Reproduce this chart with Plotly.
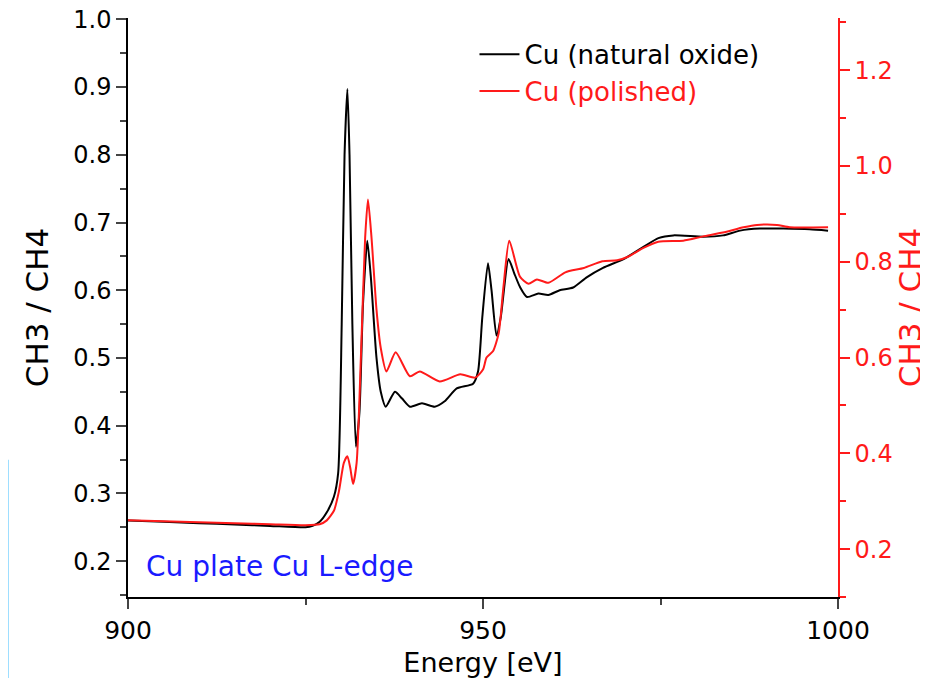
import plotly.graph_objects as go

# Cu (natural oxide) - left axis
energy_black = [900, 905, 910, 915, 920, 925, 926, 927, 928, 929, 929.6, 930.1, 930.5, 930.9,
                931.2, 931.6, 932.1, 932.6, 933.1, 933.7, 934.2, 935.0, 935.6, 936.3, 937.6,
                938.6, 939.7, 941.4, 943.2, 944.6, 946.3, 948.6, 949.3, 949.9, 950.7, 951.2,
                951.9, 952.5, 953.6, 954.4, 955.2, 956.2, 957.8, 959.2, 960.8, 962.7, 964.6,
                966.9, 969.8, 972.6, 974.7, 976.8, 981.0, 983.8, 986.2, 989.0, 992.3, 996.0, 998.6]
ratio_black = [0.260, 0.258, 0.256, 0.254, 0.252, 0.250, 0.252, 0.258, 0.272, 0.295, 0.33, 0.55,
               0.80, 0.897, 0.80, 0.55, 0.369, 0.42, 0.58, 0.673, 0.62, 0.50, 0.45, 0.428, 0.450,
               0.440, 0.428, 0.433, 0.428, 0.436, 0.455, 0.462, 0.48, 0.56, 0.640, 0.60,
               0.533, 0.56, 0.646, 0.625, 0.605, 0.590, 0.595, 0.593, 0.600, 0.604, 0.619,
               0.633, 0.646, 0.664, 0.677, 0.681, 0.679, 0.681, 0.688, 0.691, 0.691, 0.690, 0.688]

# Cu (polished) - right axis
energy_red = [900, 905, 910, 915, 920, 925, 927, 928, 929, 929.7, 930.4, 930.9, 931.3, 931.7,
              932.2, 932.8, 933.4, 933.8, 934.3, 935.0, 935.6, 936.4, 937.7, 939.7, 941.1,
              943.9, 946.8, 948.9, 950.0, 950.5, 951.4, 952.2, 952.9, 953.7, 955.2, 956.4,
              957.6, 959.2, 961.6, 964.2, 966.8, 968.9, 970.5, 972.6, 974.7, 978.2, 981.0,
              983.8, 986.7, 988.6, 991.4, 993.2, 998.6]
ratio_red = [0.260, 0.258, 0.256, 0.254, 0.252, 0.250, 0.252, 0.260, 0.280, 0.320, 0.380, 0.394,
             0.370, 0.336, 0.380, 0.600, 0.850, 0.930, 0.850, 0.700, 0.620, 0.571, 0.611, 0.561,
             0.571, 0.550, 0.565, 0.558, 0.575, 0.600, 0.613, 0.650, 0.750, 0.844, 0.769, 0.754,
             0.763, 0.756, 0.778, 0.787, 0.801, 0.803, 0.811, 0.829, 0.842, 0.844, 0.853,
             0.861, 0.872, 0.877, 0.877, 0.872, 0.872]

x_ticks = [900, 950, 1000]
left_ticks = [0.2, 0.3, 0.4, 0.5, 0.6, 0.7, 0.8, 0.9, 1.0]
right_ticks = [0.2, 0.4, 0.6, 0.8, 1.0, 1.2]

FONT = "DejaVu Sans"
RED = "#ff1a1a"

fig = go.Figure()
fig.add_trace(go.Scatter(x=energy_black, y=ratio_black, mode="lines",
                         name="Cu (natural oxide)",
                         line=dict(color="black", width=2, shape="spline", smoothing=0.6)))
fig.add_trace(go.Scatter(x=energy_red, y=ratio_red, mode="lines", yaxis="y2",
                         name="<span style='color:#ff1a1a'>Cu (polished)</span>",
                         line=dict(color=RED, width=2, shape="spline", smoothing=0.6)))

# the page body has an 8px margin, so the figure is 8px smaller and shifted
fig.update_layout(
    width=920, height=670,
    margin=dict(l=120, r=90, t=10, b=81),
    plot_bgcolor="white", paper_bgcolor="white",
    font=dict(family=FONT, size=24, color="black"),
    showlegend=True,
    legend=dict(x=0.488, y=0.978, xanchor="left", yanchor="top",
                bgcolor="rgba(0,0,0,0)", font=dict(size=26, family=FONT),
                tracegroupgap=0, itemwidth=40),
    xaxis=dict(range=[900, 1000], tickvals=x_ticks, ticks="outside", ticklen=10,
               tickwidth=1.5, showline=True, linecolor="black", linewidth=1.5,
               showgrid=False, zeroline=False, mirror=False, automargin=False,
               ticklabeloverflow="allow",
               minor=dict(ticks="outside", dtick=25, tick0=900, ticklen=6, tickwidth=1.5,
                          showgrid=False),
               title=dict(text="Energy [eV]", font=dict(size=27)),
               tickfont=dict(size=25)),
    yaxis=dict(range=[0.147, 1.002], tickvals=left_ticks, tickformat=".1f",
               ticks="outside", ticklen=10, tickwidth=1.5,
               showline=True, linecolor="black", linewidth=1.5,
               showgrid=False, zeroline=False, automargin=False,
               ticklabeloverflow="allow",
               minor=dict(ticks="outside", dtick=0.05, tick0=0.15, ticklen=6, tickwidth=1.5,
                          showgrid=False),
               title=dict(text="CH3 / CH4", font=dict(size=31)),
               tickfont=dict(size=24)),
    yaxis2=dict(range=[0.1, 1.309], tickvals=right_ticks, tickformat=".1f",
                overlaying="y", side="right", anchor="x", automargin=False,
                ticklabeloverflow="allow",
                ticks="outside", ticklen=10, tickwidth=1.5, tickcolor=RED,
                showline=True, linecolor=RED, linewidth=1.5,
                showgrid=False, zeroline=False,
                minor=dict(ticks="outside", dtick=0.1, tick0=0.1, ticklen=6, tickwidth=1.5,
                           tickcolor=RED, showgrid=False),
                title=dict(text="CH3 / CH4", font=dict(size=31, color=RED)),
                tickfont=dict(size=24, color=RED)),
)

fig.add_annotation(text="Cu plate Cu L-edge", xref="paper", yref="paper",
                   x=0.022, y=0.052, xanchor="left", yanchor="middle", showarrow=False,
                   font=dict(size=28, color="#1a1aff", family=FONT))

# stray light-blue edge line in the reference screenshot
fig.add_shape(type="line", xref="paper", yref="paper", x0=-0.169, x1=-0.169,
              y0=0.237, y1=-0.14, line=dict(color="#7fd4ff", width=1.5))

fig.write_html("out.html")
